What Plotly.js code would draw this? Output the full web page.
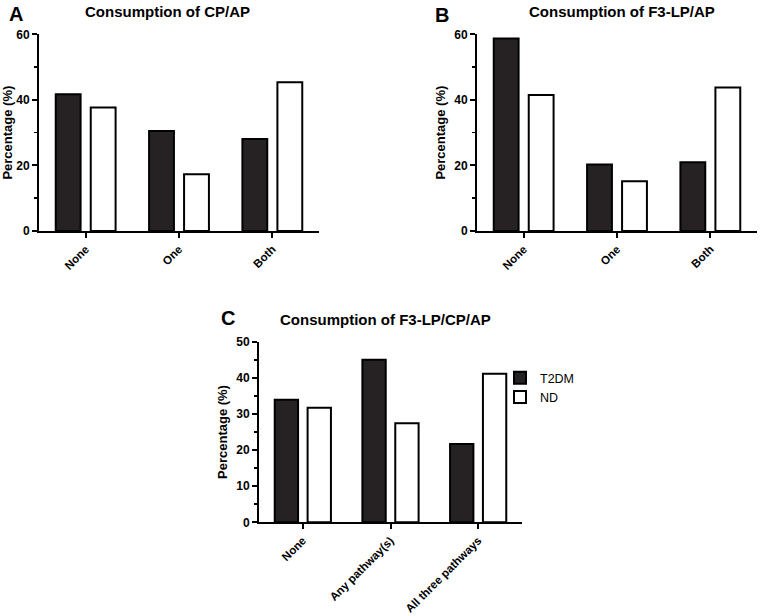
<!DOCTYPE html>
<html>
<head>
<meta charset="utf-8">
<script src="https://cdn.plot.ly/plotly-3.0.1.min.js"></script>
<style>
  body { margin: 0; padding: 0; background: #fff; }
  #chart { width: 765px; height: 616px; }
</style>
</head>
<body>
<div id="chart"></div>
<script>
// Categories
var catsAB = ['None', 'One', 'Both'];
var catsC = ['None', 'Any pathway(s)', 'All three pathways'];

// Panel A: Consumption of CP/AP
var aT2DM = [41.7, 30.5, 28.1];
var aND = [37.7, 17.3, 45.4];

// Panel B: Consumption of F3-LP/AP
var bT2DM = [58.7, 20.3, 21.0];
var bND = [41.5, 15.2, 43.8];

// Panel C: Consumption of F3-LP/CP/AP
var cT2DM = [33.9, 45.0, 21.7];
var cND = [31.7, 27.4, 41.1];

var FONT = 'Liberation Sans, Arial, sans-serif';
var DARK = '#262223';

function barTrace(x, y, name, fill, xa, ya, showLegend) {
    return {
        type: 'bar',
        x: x,
        y: y,
        name: name,
        xaxis: xa,
        yaxis: ya,
        showlegend: showLegend,
        marker: { color: fill, line: { color: '#000', width: 2 } },
        hoverinfo: 'x+y'
    };
}

var traces = [
    barTrace(catsAB, aT2DM, 'T2DM', DARK, 'x', 'y', false),
    barTrace(catsAB, aND, 'ND', '#fff', 'x', 'y', false),
    barTrace(catsAB, bT2DM, 'T2DM', DARK, 'x2', 'y2', false),
    barTrace(catsAB, bND, 'ND', '#fff', 'x2', 'y2', false),
    barTrace(catsC, cT2DM, 'T2DM', DARK, 'x3', 'y3', true),
    barTrace(catsC, cND, 'ND', '#fff', 'x3', 'y3', true)
];

// Shared axis styling
function xAxis(domain, anchor) {
    return {
        domain: domain,
        anchor: anchor,
        type: 'category',
        range: [-0.5, 2.5],
        showline: true,
        linecolor: '#000',
        linewidth: 2,
        ticks: 'outside',
        ticklen: 5,
        tickwidth: 2,
        tickcolor: '#000',
        tickangle: -45,
        showgrid: false,
        zeroline: false,
        tickfont: { family: FONT, size: 11.5, color: '#000', weight: 'bold' },
        fixedrange: true
    };
}

function yAxis(domain, anchor, max, dtick) {
    return {
        domain: domain,
        anchor: anchor,
        range: [0, max],
        dtick: dtick,
        showline: true,
        linecolor: '#000',
        linewidth: 2,
        ticks: 'outside',
        ticklen: 5,
        tickwidth: 2,
        tickcolor: '#000',
        minor: { ticks: 'outside', dtick: dtick / 2, ticklen: 3, tickwidth: 1.5, tickcolor: '#000' },
        showgrid: false,
        zeroline: false,
        tickfont: { family: FONT, size: 12, color: '#000', weight: 'bold' },
        title: {
            text: 'Percentage (%)',
            font: { family: FONT, size: 13, color: '#000', weight: 'bold' },
            standoff: 6
        },
        fixedrange: true
    };
}

function label(text, x, y, size) {
    return {
        text: text,
        xref: 'paper', yref: 'paper',
        x: x / 765, y: 1 - y / 616,
        xanchor: 'center', yanchor: 'middle',
        showarrow: false,
        font: { family: FONT, size: size, color: '#000', weight: 'bold' }
    };
}

var layout = {
    width: 765,
    height: 616,
    margin: { l: 0, r: 0, t: 0, b: 0 },
    paper_bgcolor: '#fff',
    plot_bgcolor: '#fff',
    barmode: 'group',
    bargap: 0.25,
    bargroupgap: 0.29,
    xaxis: xAxis([39 / 765, 319 / 765], 'y'),
    yaxis: yAxis([1 - 231 / 616, 1 - 34.3 / 616], 'x', 60, 20),
    xaxis2: xAxis([477 / 765, 757 / 765], 'y2'),
    yaxis2: yAxis([1 - 231 / 616, 1 - 34.3 / 616], 'x2', 60, 20),
    xaxis3: xAxis([259 / 765, 522 / 765], 'y3'),
    yaxis3: yAxis([1 - 522.3 / 616, 1 - 341.7 / 616], 'x3', 50, 10),
    showlegend: true,
    legend: {
        x: 500 / 765,
        y: 1 - 363 / 616,
        xanchor: 'left',
        yanchor: 'top',
        bgcolor: 'rgba(0,0,0,0)',
        font: { family: FONT, size: 12.5, color: '#000' },
        tracegroupgap: 0,
        itemwidth: 30
    },
    annotations: [
        label('Consumption of CP/AP', 167, 11, 15),
        label('Consumption of F3-LP/AP', 622, 11, 15),
        label('Consumption of F3-LP/CP/AP', 385, 320, 15),
        label('A', 16, 14, 20),
        label('B', 442, 15, 20),
        label('C', 228, 318, 20)
    ]
};

Plotly.newPlot('chart', traces, layout, { displayModeBar: false, staticPlot: true });
</script>
</body>
</html>
